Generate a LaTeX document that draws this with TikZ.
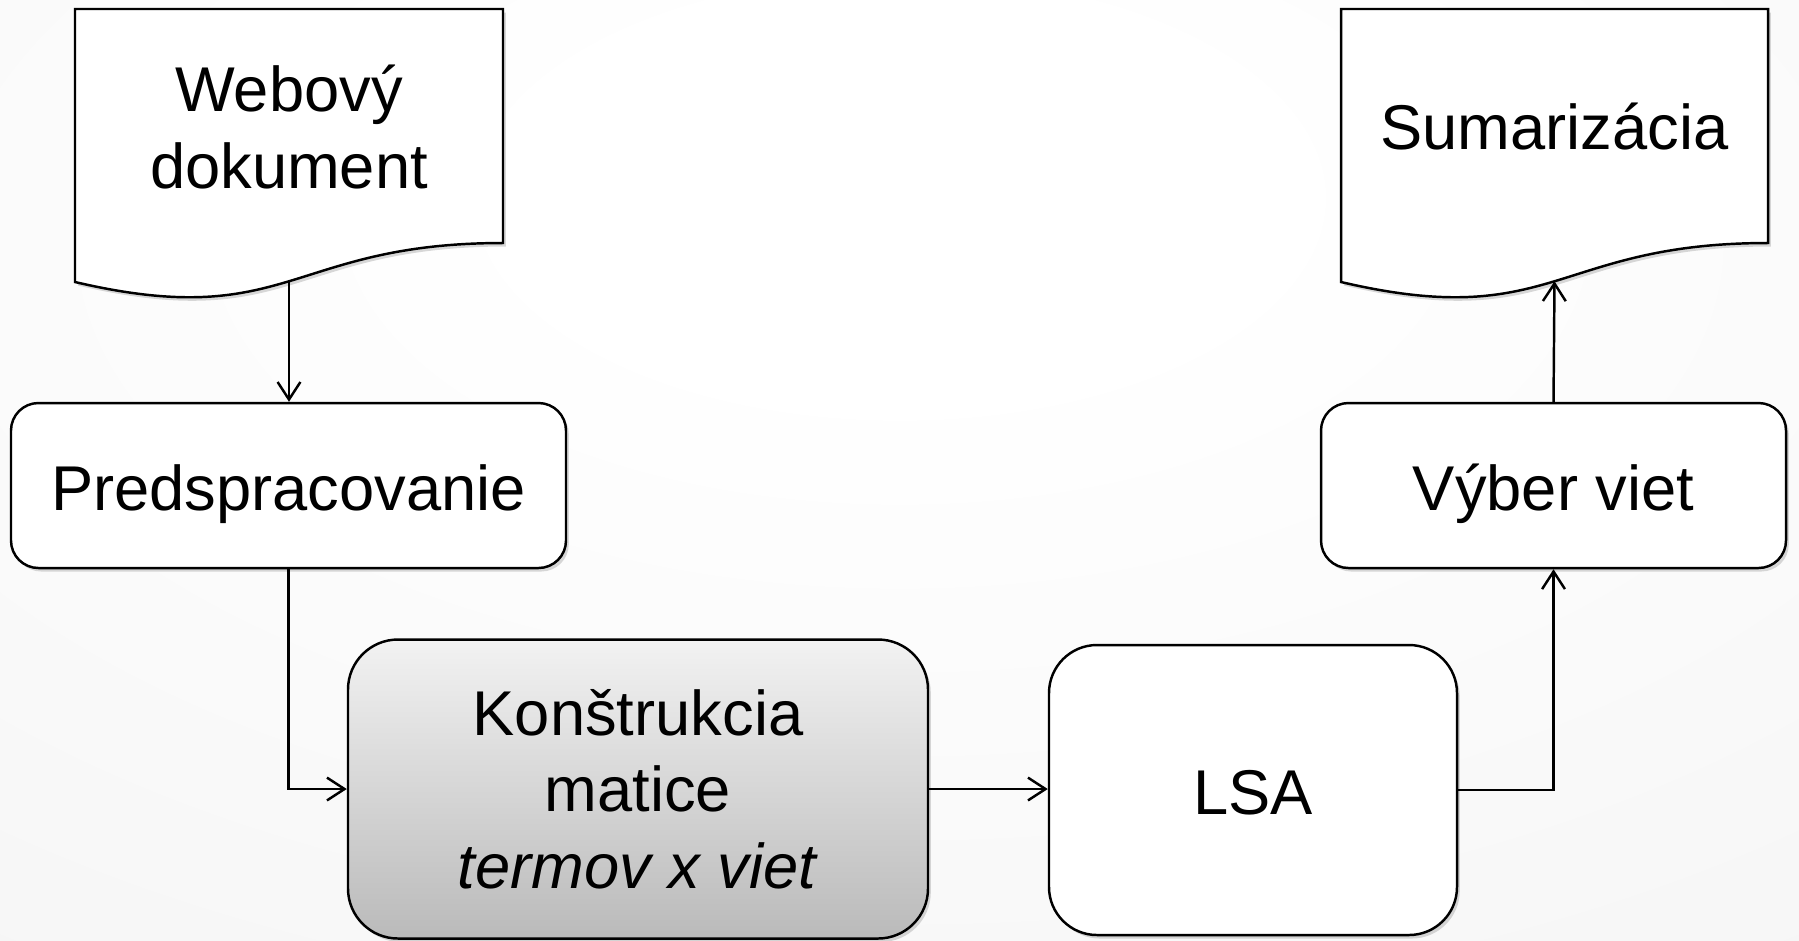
\documentclass[tikz,border=0pt]{standalone}
\usepackage{fontspec}
\setmainfont{Liberation Sans}
\usepackage{xcolor}
\usetikzlibrary{shadows,arrows.meta}

\definecolor{bgedge}{RGB}{236,236,236}
\definecolor{boxtop}{RGB}{242,242,242}
\definecolor{boxbot}{RGB}{186,186,186}
\pgfdeclareradialshading{slidebg}{\pgfpoint{0bp}{17bp}}{color(0bp)=(white); color(10bp)=(white); color(80bp)=(bgedge)}

\tikzset{
  boxshadow/.style={drop shadow={opacity=0.3, shadow xshift=0.8pt, shadow yshift=-1pt}},
  stage/.style={draw=black, line width=0.7pt, fill=white, rounded corners=#1, align=center,
    font=\fontsize{18}{21.8}\selectfont, boxshadow},
  oneline/.style={text height=14.2pt, text depth=0pt},
  pagetext/.style={align=center, font=\fontsize{18}{21.8}\selectfont},
  pageline/.style={draw=black, line width=0.7pt, fill=white, boxshadow},
  flow/.style={draw=black, line width=0.7pt, -{Straight Barb[length=5pt,width=6.5pt]}}
}

\begin{document}
\begin{tikzpicture}
  \useasboundingbox (0,0) rectangle (17.99,-9.40);
  % slide background
  \shade[shading=slidebg] (0,0) rectangle (17.99,-9.40);

  % document pages
  \path[pageline] (0.75,-0.09) -- (5.03,-0.09) -- (5.03,-2.43)
    .. controls (2.89,-2.43) and (2.89,-3.32) .. (0.75,-2.82) coordinate[pos=0.5] (web-wave) -- cycle;
  \node[pagetext] (web) at (2.89,-1.27) {Webový\\dokument};

  \path[pageline] (13.41,-0.09) -- (17.68,-0.09) -- (17.68,-2.43)
    .. controls (15.545,-2.43) and (15.545,-3.32) .. (13.41,-2.82) coordinate[pos=0.5] (sum-wave) -- cycle;
  \node[pagetext] (sum) at (15.545,-1.26) {Sumarizácia};

  % processing steps
  \node[stage=0.275cm, oneline, minimum width=5.55cm, minimum height=1.65cm] (prep) at (2.885,-4.855) {Predspracovanie};
  \node[stage=0.275cm, oneline, minimum width=4.65cm, minimum height=1.65cm] (vyber) at (15.535,-4.855) {Výber viet};
  \node[stage=0.5cm, minimum width=5.80cm, minimum height=2.99cm, top color=boxtop, bottom color=boxbot]
    (matica) at (6.38,-7.89) {Konštrukcia\\matice\\\textit{termov x viet}};
  \node[stage=0.48cm, oneline, minimum width=4.08cm, minimum height=2.90cm] (lsa) at (12.53,-7.90) {LSA};

  % connectors
  \draw[flow] (web-wave) -- (web-wave |- prep.north);
  \draw[flow] (prep.south) |- (matica.west);
  \draw[flow] (matica.east) -- (matica.east -| lsa.west);
  \draw[flow] (lsa.east) -| (vyber.south);
  \draw[flow] (vyber.north) -- (sum-wave);
\end{tikzpicture}
\end{document}
